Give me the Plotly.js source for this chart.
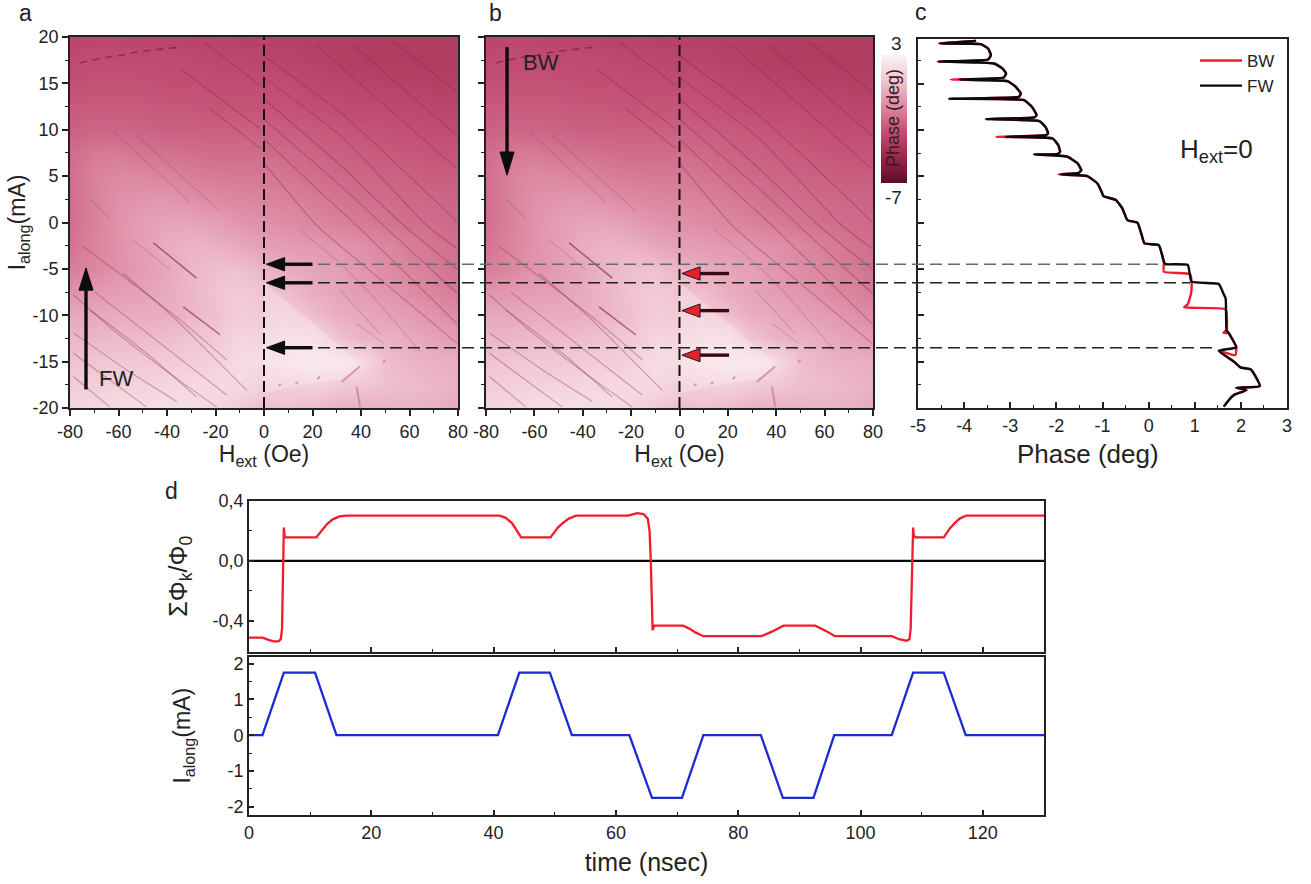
<!DOCTYPE html>
<html><head><meta charset="utf-8">
<script src="https://cdn.plot.ly/plotly-3.0.1.min.js"></script>
<style>html,body{margin:0;padding:0;background:#fff}#p{width:1311px;height:884px}</style></head>
<body><div id="p"></div>
<script>
// ---- phase map ----
const fieldH=[-80,-70,-60,-50,-40,-30,-20,-10,0,10,20,30,40,50,60,70,80];
const currentI=[20,17.5,15,12.5,10,7.5,5,2.5,0,-2.5,-5,-7.5,-10,-12.5,-15,-17.5,-20];
const phaseMap=[
[-3.4,-3.3,-3.3,-3.4,-3.4,-3.5,-3.5,-3.6,-3.6,-3.6,-3.7,-3.7,-3.8,-3.8,-3.8,-3.8,-3.8],
[-3.2,-3.1,-3.1,-3.2,-3.2,-3.2,-3.3,-3.3,-3.4,-3.5,-3.6,-3.7,-3.8,-3.9,-3.9,-3.9,-3.9],
[-3.0,-2.9,-2.9,-2.9,-3.0,-3.0,-3.1,-3.1,-3.1,-3.1,-3.3,-3.4,-3.5,-3.6,-3.6,-3.7,-3.7],
[-2.6,-2.6,-2.6,-2.6,-2.7,-2.7,-2.8,-2.8,-2.8,-2.9,-3.0,-3.1,-3.2,-3.2,-3.3,-3.4,-3.4],
[-2.4,-2.2,-2.2,-2.3,-2.4,-2.4,-2.4,-2.4,-2.4,-2.5,-2.6,-2.7,-2.8,-2.9,-3.0,-3.1,-3.1],
[-2.0,-1.6,-1.5,-1.7,-1.8,-1.9,-2.0,-2.0,-2.0,-2.1,-2.3,-2.4,-2.5,-2.6,-2.7,-2.8,-2.8],
[-1.9,-1.3,-1.0,-1.1,-1.2,-1.4,-1.5,-1.6,-1.6,-1.7,-1.9,-2.1,-2.2,-2.3,-2.4,-2.5,-2.5],
[-2.0,-1.3,-0.8,-0.6,-0.6,-0.8,-1.0,-1.1,-1.2,-1.3,-1.5,-1.7,-1.9,-2.0,-2.1,-2.2,-2.3],
[-1.9,-1.3,-0.7,-0.3,-0.1,-0.1,-0.3,-0.6,-0.8,-0.9,-1.1,-1.3,-1.5,-1.7,-1.9,-2.0,-2.1],
[-1.8,-1.2,-0.7,-0.3,0.2,0.4,0.3,0.0,-0.3,-0.4,-0.5,-0.6,-0.8,-1.1,-1.4,-1.7,-1.9],
[-1.4,-1.1,-0.7,-0.4,0,0.5,0.8,0.8,0.4,0.1,-0.1,-0.3,-0.6,-0.9,-1.2,-1.5,-1.8],
[-0.7,-0.5,-0.3,-0.2,0.1,0.5,0.9,1.2,0.9,0.7,0.2,-0.1,-0.4,-0.6,-0.9,-1.2,-1.5],
[0,0,0.1,0.1,0.2,0.5,0.8,1.3,1.2,1.2,0.7,0.2,0,-0.2,-0.4,-0.7,-1.0],
[0.5,0.5,0.6,0.6,0.7,0.9,1.1,1.7,1.6,1.8,1.9,0.9,0.4,0.3,0.1,-0.2,-0.4],
[0.9,1,1.1,1.1,1.2,1.3,1.5,2.0,2.0,2.3,2.5,2.5,2.0,0.8,0.4,0.3,0.2],
[1.3,1.4,1.5,1.6,1.7,1.8,1.9,1.9,1.4,1.4,1.5,1.2,1.0,0.8,0.7,0.5,0.3],
[1.6,1.8,2,2.1,2.1,2,1.7,1.2,0.7,0.8,0.7,0.3,0.3,0.3,0.4,0.3,0.1]];
const mapColors=[[0,'#5c0a28'],[0.2,'#98274a'],[0.4,'#c24f73'],[0.6,'#dd8aa3'],[0.8,'#f0c6d2'],[1,'#fbf2f4']];
// light wedge
const wedgeH=[0,5.2,20.4,40.3,31.3,20.4,-0.3,0];
const wedgeI=[-6.5,-7.6,-10.9,-15.4,-17,-17.3,-18.4,-6.5];
// bright stripe under the top edge
const stripeH=[-78,80], stripeI=[19.1,19.1];
// dark resonance ridges, main
const ridgeH=[-0.3,32.7,79.5,null,-0.3,32.7,67.1,79.5,null,-0.3,31.4,57.5,79.5,null,-0.3,32.7,49.2,79.5,null,-0.3,23.1,38.2,79.5,null,-0.3,21.7,46.5,79.5,null,21.7,79.5,null,36.9,79.5,null,53.4,79.5,null,
 -34.6,-1.6,null,-22.3,-1.6,null,-25,-1.6,null,
 -74.5,-52.5,-34.6,-15.4,null,-69.7,-42.9,-15.4,null,-71.8,-48.4,-27.8,null,-78.6,-56.6,-36,null,-78.6,-48.4,null,-78.6,-63.5,null,-58,-37.4,-7.1,null,-78.6,-62.1,-38.8,-19.5];
const ridgeI=[18,11.6,0.1,null,15.7,9.1,-0.3,-2.8,null,13.4,6.2,-0.3,-5,null,11.2,3.7,-0.3,-7.6,null,9.1,3.3,-0.3,-10.9,null,6.5,-0.3,-5.8,-13,null,19.1,5.8,null,19.1,9.4,null,19.5,14.1,null,
 16.6,10.1,null,12.3,8,null,19.5,14.8,null,
 -2.6,-6.9,-10.5,-14.8,null,-7.5,-13,-18.6,null,-9.4,-14.1,-18.8,null,-11.9,-15.9,-19.3,null,-14.1,-19.9,null,-16.6,-19.9,null,-5.5,-10.2,-18.1,null,-7.8,-11.6,-16.3,-19.9];
// faint ridges
const faintH=[14.8,31.4,43.7,64.4,null,31.4,47.9,null,38.2,49.2,null,-71.8,-63.5,null,-62,-30.5,null,-52.5,-18,null,-53.9,-38.8];
const faintI=[-0.8,-4.4,-7.6,-13.9,null,-7.3,-12,null,-10.9,-13,null,2.6,0.4,null,9.8,2.2,null,9.4,1.2,null,-1.9,-5.1];
// short strong ridges
const strongH=[-45.6,-27.8,null,-33.3,-18.1];
const strongI=[-2.2,-6,null,-9.1,-12.1];
const topDashH=[-76,-67.6,-59.4,-51.8,-34.6];
const topDashI=[17.2,17.7,18,18.4,18.9];
const specksH=[6,7,null,13,14,null,22,23,null,32,39.6,null,49,50,null,39.6,38.2];
const specksI=[-17.6,-17.4,null,-17.4,-17.2,null,-16.9,-16.6,null,-17.2,-15.5,null,-15.1,-14.8,null,-19.9,-17.7];
// ---- panel c ----
const fwPhase=[-3.74,-4.54,-3.64,-3.48,-3.42,-3.48,-4.57,-3.35,-3.17,-3.09,-3.14,-4.10,-3.06,-2.88,-2.77,-2.81,-4.32,-2.70,-2.52,-2.43,-2.48,-3.53,-2.37,-2.23,-2.18,-2.23,-3.10,-2.08,-1.96,-1.92,-1.98,-2.48,-1.76,-1.54,-1.46,-1.51,-1.90,-1.33,-1.11,-1.02,-0.98,-0.71,-0.57,-0.46,-0.24,-0.16,-0.09,0.22,0.33,0.37,0.85,0.93,1.52,1.62,1.67,1.69,1.74,1.90,1.52,1.85,1.99,2.21,2.32,2.41,1.90,2.12,1.85,1.74,1.63];
const fwCurrent=[19.6,19.32,19.24,18.78,18.06,17.59,17.37,17.16,16.62,16.08,15.65,15.43,15.25,14.64,13.92,13.57,13.35,13.2,12.42,11.59,11.34,11.16,10.94,10.26,9.61,9.43,9.25,9.07,8.36,7.64,7.39,7.35,7.1,6.38,5.66,5.37,5.19,5.01,4.22,3.33,2.86,2.43,1.53,0.27,-0.02,-1.17,-2.25,-2.43,-4.22,-4.48,-4.58,-6.38,-6.63,-7.64,-8.18,-11.59,-11.95,-13.46,-13.82,-15.0,-15.61,-15.83,-16.62,-17.63,-17.81,-18.06,-18.6,-19.13,-19.85];
const bwPhase=[-3.74,-4.54,-3.64,-3.48,-3.42,-3.48,-4.57,-3.35,-3.17,-3.09,-3.14,-4.29,-3.06,-2.88,-2.77,-2.81,-4.32,-2.70,-2.52,-2.43,-2.48,-3.53,-2.37,-2.23,-2.18,-2.23,-3.31,-2.08,-1.96,-1.92,-1.98,-2.48,-1.76,-1.54,-1.46,-1.51,-1.95,-1.33,-1.11,-1.02,-0.98,-0.71,-0.57,-0.46,-0.24,-0.16,-0.09,0.22,0.33,0.33,0.90,0.93,0.92,0.85,0.77,1.67,1.69,1.62,1.74,1.90,1.88,1.52,1.85,1.99,2.21,2.32,2.41,1.90,2.12,1.85,1.74,1.63];
const bwCurrent=[19.6,19.32,19.24,18.78,18.06,17.59,17.37,17.16,16.62,16.08,15.65,15.43,15.25,14.64,13.92,13.57,13.35,13.2,12.42,11.59,11.34,11.16,10.94,10.26,9.61,9.43,9.25,9.07,8.36,7.64,7.39,7.35,7.1,6.38,5.66,5.37,5.19,5.01,4.22,3.33,2.86,2.43,1.53,0.27,-0.02,-1.17,-2.25,-2.43,-4.22,-5.3,-5.55,-6.38,-7.64,-8.79,-9.15,-9.36,-11.59,-11.88,-11.95,-13.46,-14.3,-13.82,-15.0,-15.61,-15.83,-16.62,-17.63,-17.81,-18.06,-18.6,-19.13,-19.85];
// ---- panel d ----
const fluxT=[0,2.2,3.2,4,4.8,5.2,5.4,5.5,5.6,5.7,5.8,6,11,11.5,12,12.8,13.7,14.8,16,41,42,43,43.8,44.5,49.3,49.8,50.5,51.3,52.3,53.5,62,63.5,64.5,65.2,65.5,65.7,65.9,66,66.3,71,72,73,74.3,83.8,85.5,87.4,92.6,93.7,94.8,95.8,105.1,106.3,107.5,108,108.2,108.35,108.5,108.6,108.7,109,113.6,114,114.6,115.4,116.2,117.3,130];
const fluxV=[-0.51,-0.51,-0.525,-0.535,-0.535,-0.52,-0.45,-0.2,0.1,0.22,0.17,0.155,0.155,0.18,0.21,0.245,0.275,0.295,0.3,0.3,0.285,0.25,0.2,0.155,0.155,0.18,0.22,0.25,0.28,0.3,0.3,0.316,0.31,0.28,0.2,0,-0.3,-0.46,-0.43,-0.43,-0.45,-0.475,-0.5,-0.5,-0.47,-0.43,-0.43,-0.45,-0.475,-0.5,-0.5,-0.52,-0.53,-0.52,-0.45,-0.2,0.1,0.22,0.17,0.155,0.155,0.18,0.215,0.25,0.28,0.3,0.3];
const pulseT=[0,2.2,5.7,10.8,14.3,40.7,44.2,49.2,52.8,62.2,65.9,70.8,74.3,83.7,87.3,92.3,95.7,105.1,108.6,113.6,117.2,130];
const pulseI=[0,0,1.75,1.75,0,0,1.75,1.75,0,0,-1.75,-1.75,0,0,-1.75,-1.75,0,0,1.75,1.75,0,0];
const zeroT=[0,130], zeroV=[0,0];
// ---- tick labels ----
const fieldTicks=[-80,-60,-40,-20,0,20,40,60,80];
const fieldLabels=['-80','-60','-40','-20','0','20','40','60','80'];
const currentTicks=[-20,-15,-10,-5,0,5,10,15,20];
const currentLabels=['-20','-15','-10','-5','0','5','10','15','20'];
const phaseTicks=[-5,-4,-3,-2,-1,0,1,2,3];
const phaseLabels=['-5','-4','-3','-2','-1','0','1','2','3'];
const fluxTicks=[-0.4,0,0.4];
const fluxLabels=['-0,4','0,0','0,4'];
const pulseTicks=[-2,-1,0,1,2];
const pulseLabels=['-2','-1','0','1','2'];
// ---- horizontal guide levels and arrows ----
const guideLevels=[-4.5,-6.5,-13.5];
const guideEndsPx=[1163,1190,1218];
const guideColors=['#6a6a6a','#222','#222'];
const fwArrowI=[-4.5,-6.5,-13.5];
const bwArrowI=[-5.5,-9.5,-14.3];

const W=1311,H=884,INK='#222',FONT='Liberation Sans, Arial, sans-serif';
const dx=(a,b)=>[a/W,b/W], dy=(top,bot)=>[1-bot/H,1-top/H];
const TF={family:FONT,size:18,color:INK};
function ax(o){return Object.assign({showline:true,linecolor:INK,linewidth:1.8,mirror:true,showgrid:false,zeroline:false,ticks:'outside',ticklen:6,tickwidth:1.5,tickcolor:INK,tickfont:TF},o);}
const minor=(d,dir,len)=>({dtick:d,ticks:dir,ticklen:len,tickwidth:1.2,tickcolor:INK,showgrid:false});
const titleF=s=>({family:FONT,size:s,color:INK});
const deco=(x,y,xa,ya,line)=>({type:'scatter',mode:'lines',x,y,xaxis:xa,yaxis:ya,line,showlegend:false,hoverinfo:'skip'});

function mapTraces(xa,ya,showBar){
 return [
 {type:'heatmap',x:fieldH,y:currentI,z:phaseMap,xaxis:xa,yaxis:ya,zmin:-7,zmax:3,zsmooth:'best',colorscale:mapColors,showscale:showBar,
  colorbar:{x:881/W,xanchor:'left',y:1-183/H,yanchor:'bottom',len:128/H,lenmode:'fraction',thickness:26,thicknessmode:'pixels',outlinewidth:0,showticklabels:false,ticks:'',xpad:0,ypad:0}},
 Object.assign(deco(wedgeH,wedgeI,xa,ya,{width:0}),{fill:'toself',fillcolor:'rgba(253,240,244,0.32)'}),
 deco(stripeH,stripeI,xa,ya,{color:'rgba(200,40,85,0.2)',width:3}),
 deco(faintH,faintI,xa,ya,{color:'rgba(125,35,75,0.2)',width:1.1}),
 deco(ridgeH,ridgeI,xa,ya,{color:'rgba(125,30,70,0.36)',width:1.1,shape:'spline',smoothing:0.5}),
 deco(strongH,strongI,xa,ya,{color:'rgba(125,20,55,0.6)',width:1.4}),
 deco(topDashH,topDashI,xa,ya,{color:'rgba(135,25,60,0.7)',width:1.6,dash:'7px,6px',shape:'spline'}),
 deco(specksH,specksI,xa,ya,{color:'rgba(195,110,135,0.6)',width:2}),
 deco([0,0],[-20,20],xa,ya,{color:'#111',width:2,dash:'11px,5px'})
 ];
}
// an arrow built from a shaft and a filled head, in data coordinates
function arrowH(i,tip,base,end,hw,headCol,edge,shaftCol,xa,ya){
 return [deco([base,end],[i,i],xa,ya,{color:shaftCol,width:3.4}),
  Object.assign(deco([tip,base,base,tip],[i,i+hw,i-hw,i],xa,ya,{color:edge,width:1}),{fill:'toself',fillcolor:headCol})];
}
function arrowV(h,tip,base,end,hw,xa,ya){
 return [deco([h,h],[base,end],xa,ya,{color:'#0c0c0c',width:3.4}),
  Object.assign(deco([h,h+hw,h-hw,h],[tip,base,base,tip],xa,ya,{color:'#0c0c0c',width:1}),{fill:'toself',fillcolor:'#0c0c0c'})];
}
const traces=[
 ...mapTraces('x','y',true),
 ...mapTraces('x2','y2',false),
 ...fwArrowI.flatMap(v=>arrowH(v,1,8.5,20,0.72,'#0c0c0c','#0c0c0c','#0c0c0c','x','y')),
 ...arrowV(-73.4,-4.9,-7.3,-18,2.9,'x','y'),
 ...bwArrowI.flatMap(v=>arrowH(v,1,8.5,20.5,0.72,'#e8202c','#1a1a1a','#3a0a14','x2','y2')),
 ...arrowV(-71.3,5.1,7.6,18.9,2.9,'x2','y2'),
 {type:'scatter',mode:'lines',name:'BW',x:bwPhase,y:bwCurrent,xaxis:'x3',yaxis:'y3',line:{color:'#ee1c2e',width:2.4,shape:'spline',smoothing:0.4}},
 {type:'scatter',mode:'lines',name:'FW',x:fwPhase,y:fwCurrent,xaxis:'x3',yaxis:'y3',line:{color:'#0a0a0a',width:2.4,shape:'spline',smoothing:0.4}},
 deco(zeroT,zeroV,'x4','y4',{color:'#0a0a0a',width:2.2}),
 deco(fluxT,fluxV,'x4','y4',{color:'#ee1c2e',width:2.3}),
 deco(pulseT,pulseI,'x5','y5',{color:'#1c2bd0',width:2.3})
];
const mapY=o=>ax(Object.assign({range:[-20,20],tickvals:currentTicks,ticktext:currentLabels,minor:minor(2.5,'outside',3)},o));
const mapX=o=>ax(Object.assign({range:[-80,80],tickvals:fieldTicks,ticktext:fieldLabels,minor:minor(10,'outside',3)},o));
const yPaperMap=v=>1-(37+(20-v)*9.275)/H;
const shapes=guideLevels.map((v,i)=>({type:'line',xref:'paper',yref:'paper',layer:'above',x0:318/W,x1:guideEndsPx[i]/W,y0:yPaperMap(v),y1:yPaperMap(v),line:{color:guideColors[i],width:1.5,dash:'12px,6px'}}));
const note=(text,px,py,size,extra)=>Object.assign({text,xref:'paper',yref:'paper',x:px/W,y:1-py/H,showarrow:false,xanchor:'center',yanchor:'middle',font:{family:FONT,size,color:INK}},extra||{});
const layout={
 width:W,height:H,margin:{l:0,r:0,t:0,b:0},paper_bgcolor:'#fff',plot_bgcolor:'#fff',showlegend:true,
 legend:{x:1195/W,y:1-43/H,xanchor:'left',yanchor:'top',bgcolor:'rgba(0,0,0,0)',font:{family:FONT,size:17,color:INK},itemwidth:42,tracegroupgap:0},
 xaxis:mapX({domain:dx(70,458),anchor:'y',title:{text:'H<sub>ext</sub> (Oe)',font:titleF(23),standoff:4}}),
 yaxis:mapY({domain:dy(37,408),anchor:'x',title:{text:'I<sub>along</sub>(mA)',font:titleF(23),standoff:0}}),
 xaxis2:mapX({domain:dx(486,873),anchor:'y2',title:{text:'H<sub>ext</sub> (Oe)',font:titleF(23),standoff:4}}),
 yaxis2:mapY({domain:dy(37,408),anchor:'x2',showticklabels:false}),
 xaxis3:ax({domain:dx(918,1287),anchor:'y3',range:[-5,3],tickvals:phaseTicks,ticktext:phaseLabels,ticks:'inside',minor:minor(0.5,'inside',3)}),
 yaxis3:ax({domain:dy(39,408),anchor:'x3',range:[-20,19.8],tick0:0,dtick:5,ticks:'inside',showticklabels:false,minor:minor(2.5,'inside',3)}),
 xaxis4:ax({domain:dx(249,1044),anchor:'y4',range:[0,130],dtick:20,ticks:'inside',ticklen:5,showticklabels:false,minor:minor(10,'inside',3)}),
 yaxis4:ax({domain:dy(500.5,652),anchor:'x4',range:[-0.605,0.4],tickvals:fluxTicks,ticktext:fluxLabels,ticks:'inside',ticklen:5,minor:{tickvals:[-0.2,0.2],ticks:'inside',ticklen:3,tickwidth:1.2,tickcolor:INK},title:{text:'ΣΦ<sub>k</sub>/Φ<sub>0</sub>',font:titleF(25),standoff:18}}),
 xaxis5:ax({domain:dx(249,1044),anchor:'y5',range:[0,130],dtick:20,ticks:'inside',ticklen:5,minor:minor(10,'inside',3),title:{text:'time (nsec)',font:titleF(25),standoff:12}}),
 yaxis5:ax({domain:dy(656.5,815),anchor:'x5',range:[-2.23,2.2],tickvals:pulseTicks,ticktext:pulseLabels,ticks:'inside',ticklen:5,minor:minor(0.5,'inside',3),title:{text:'I<sub>along</sub>(mA)',font:titleF(23),standoff:30}}),
 shapes,
 annotations:[
  note('a',25,13,23),note('b',495,13,23),note('c',921,12,23),note('d',171,491,23),
  note('FW',116,378,22),note('BW',541,63,22),
  note('H<sub>ext</sub>=0',1216,150,26),
  note('Phase (deg)',1088,454,26),
  note('3',896,43,19),note('-7',893,198,19),
  note('Phase (deg)',893,118,18,{textangle:-90,font:{family:FONT,size:18,color:'#3a1a22'}})
 ]
};
Plotly.newPlot('p',traces,layout,{displayModeBar:false,responsive:false});
</script></body></html>
